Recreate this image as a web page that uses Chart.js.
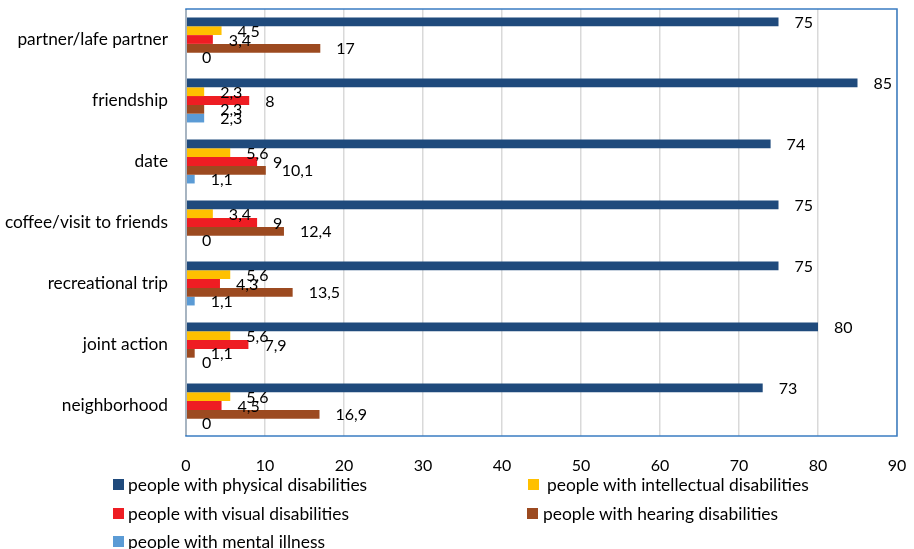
<!DOCTYPE html>
<html>
<head>
<meta charset="utf-8">
<script src="https://cdn.jsdelivr.net/npm/chart.js@4/dist/chart.umd.min.js"></script>
<style>
  html, body { margin: 0; padding: 0; background: #fff; }
  #wrap { position: relative; width: 914px; height: 549px; }
  #legend { position: absolute; left: 0; top: 0; width: 914px; height: 549px; pointer-events: none;
            font-family: Lato, "Open Sans", sans-serif; font-size: 17.4px; color: #000; }
  .item { position: absolute; display: flex; align-items: center; white-space: nowrap; }
  .box { width: 11px; height: 11px; margin-right: 4px; }
</style>
</head>
<body>
<div id="wrap">
  <canvas id="chart" width="914" height="549"></canvas>
  <div id="legend"></div>
</div>
<script>
const categories = ['partner/lafe partner', 'friendship', 'date', 'coffee/visit to friends',
                    'recreational trip', 'joint action', 'neighborhood'];
const seriesNames = ['people with physical disabilities', 'people with intellectual disabilities',
                     'people with visual disabilities', 'people with hearing disabilities',
                     'people with mental illness'];
const physical     = [75, 85, 74, 75, 75, 80, 73];
const intellectual = [4.5, 2.3, 5.6, 3.4, 5.6, 5.6, 5.6];
const visual       = [3.4, 8, 9, 9, 4.3, 7.9, 4.5];
const hearing      = [17, 2.3, 10.1, 12.4, 13.5, 1.1, 16.9];
const mental       = [0, 2.3, 1.1, 0, 1.1, 0, 0];
const xTicks = [0, 10, 20, 30, 40, 50, 60, 70, 80, 90];

const colors = ['#1F4A7C', '#FFC000', '#EE1D23', '#9C4A20', '#5B9BD5'];
const series = [physical, intellectual, visual, hearing, mental];

const FONT = 'Lato, "Open Sans", sans-serif';

// value labels at the end of each bar, Excel style "4,5"
const valueLabels = {
  id: 'valueLabels',
  afterDatasetsDraw(chart) {
    const ctx = chart.ctx;
    ctx.save();
    ctx.font = '16px ' + FONT;
    ctx.fillStyle = '#000';
    ctx.textAlign = 'left';
    ctx.textBaseline = 'middle';
    chart.data.datasets.forEach((ds, i) => {
      chart.getDatasetMeta(i).data.forEach((bar, j) => {
        const txt = String(ds.data[j]).replace('.', ',');
        ctx.fillText(txt, bar.x + 16, bar.y + 1);
      });
    });
    ctx.restore();
  }
};

// blue frame round the plot area, grey left axis on top
const frame = {
  id: 'frame',
  afterDraw(chart) {
    const { ctx, chartArea: a } = chart;
    ctx.save();
    ctx.strokeStyle = '#3A7CC2';
    ctx.lineWidth = 1.5;
    ctx.strokeRect(a.left, a.top, a.right - a.left, a.bottom - a.top);
    ctx.strokeStyle = '#BFBFBF';
    ctx.beginPath();
    ctx.moveTo(a.left, a.top + 1);
    ctx.lineTo(a.left, a.bottom - 1);
    ctx.stroke();
    ctx.restore();
  }
};

const noPad = (s) => { s.paddingTop = 0; s.paddingBottom = 0; s.paddingLeft = 0; s.paddingRight = 0; };

const chart = new Chart(document.getElementById('chart'), {
  type: 'bar',
  data: {
    labels: categories,
    datasets: series.map((d, i) => ({
      label: seriesNames[i],
      data: d,
      backgroundColor: colors[i],
      barPercentage: 1,
      categoryPercentage: 0.72,
    })),
  },
  options: {
    indexAxis: 'y',
    responsive: false,
    animation: false,
    layout: { padding: { top: 9, right: 17, left: 0, bottom: 0 } },
    plugins: {
      legend: { display: false },
      tooltip: { enabled: false },
    },
    scales: {
      x: {
        min: 0,
        max: 90,
        afterBuildTicks: (s) => { s.ticks = xTicks.map(v => ({ value: v })); },
        afterFit: (s) => { s.height = 113; noPad(s); },
        grid: { color: '#D9D9D9', lineWidth: 1.5, drawTicks: false },
        border: { display: false },
        ticks: { color: '#000', padding: 20, font: { family: FONT, size: 16 } },
      },
      y: {
        afterFit: (s) => { s.width = 186; noPad(s); },
        grid: { display: false },
        border: { display: false },
        ticks: { color: '#000', padding: 10, font: { family: FONT, size: 17.3 } },
      },
    },
  },
  plugins: [valueLabels, frame],
});

// two-column legend under the chart
const legendPos = [[113, 484], [528, 484], [113, 513], [527, 513], [113, 541]];
const gaps = [4, 8, 4, 5, 4];
const legend = document.getElementById('legend');
chart.data.datasets.forEach((ds, i) => {
  const el = document.createElement('div');
  el.className = 'item';
  el.style.left = legendPos[i][0] + 'px';
  el.style.top = (legendPos[i][1] - 10) + 'px';
  el.style.height = '20px';
  el.innerHTML = `<span class="box" style="background:${ds.backgroundColor};margin-right:${gaps[i]}px"></span>${ds.label}`;
  legend.appendChild(el);
});
</script>
</body>
</html>
